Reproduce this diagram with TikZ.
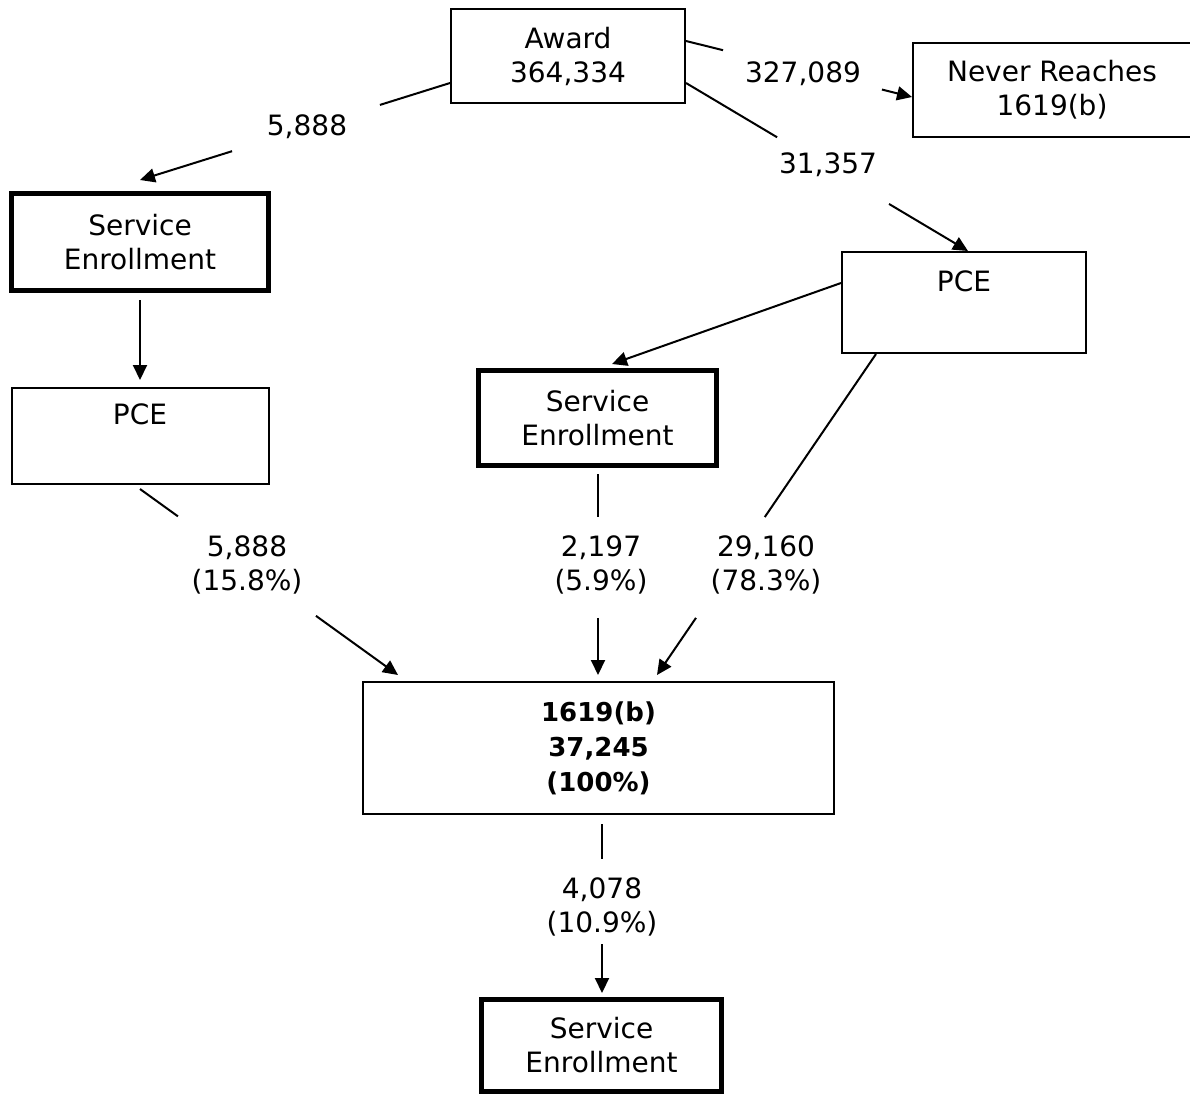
\documentclass[tikz,border=0pt]{standalone}
\usepackage{fontspec}
\setmainfont{DejaVu Sans}
\usetikzlibrary{arrows.meta,calc}
\tikzset{
  box/.style={draw, line width=2pt, inner sep=0pt, align=center, font=\fontsize{28}{34}\selectfont},
  thickbox/.style={box, line width=5pt},
  pcebox/.style={box, text height=21pt, text depth=44pt},
  lbl/.style={inner sep=0pt, align=center, font=\fontsize{28}{34}\selectfont},
  ln/.style={line width=2pt},
  arr/.style={ln, -{Triangle[length=15pt,width=14pt]}},
}
\begin{document}
\begin{tikzpicture}[x=1pt,y=-1pt]
\useasboundingbox[fill=white] (0,0) rectangle (1190,1095);
% boxes
\node[box, minimum width=234pt, minimum height=94pt] (award) at (568,56) {Award\\364,334};
\node[box, minimum width=278pt, minimum height=94pt] (never) at (1052,90) {Never Reaches\\1619(b)};
\node[thickbox, minimum width=257pt, minimum height=97pt] (se1) at (140,242) {Service\\Enrollment};
\node[pcebox, minimum width=257pt, minimum height=96pt] (pce1) at (140,436) {PCE};
\node[pcebox, minimum width=244pt, minimum height=101pt] (pce2) at (964,302.5) {PCE};
\node[thickbox, minimum width=238pt, minimum height=95pt] (se2) at (597.5,418) {Service\\Enrollment};
\node[box, minimum width=471pt, minimum height=132pt, font=\bfseries\fontsize{26}{35}\selectfont] (total) at (598.5,748) {1619(b)\\37,245\\(100\%)};
\node[thickbox, minimum width=240pt, minimum height=92pt] (se3) at (601.5,1045.5) {Service\\Enrollment};
% labels
\node[lbl] (l1) at (307,127) {5,888};
\node[lbl] (l2) at (803,74) {327,089};
\node[lbl] (l3) at (828,165) {31,357};
\node[lbl] (l4) at (247,565) {5,888\\(15.8\%)};
\node[lbl] (l5) at (601,565) {2,197\\(5.9\%)};
\node[lbl] (l6) at (766,565) {29,160\\(78.3\%)};
\node[lbl] (l7) at (602,907) {4,078\\(10.9\%)};
% connector end points
\coordinate (c1s) at ($(award.west)+(0,27)$);
\coordinate (c1e) at ($(se1.north)+(0,-11)$);
\coordinate (c1a) at ($(c1s)!0.226!(c1e)$);
\coordinate (c1b) at ($(c1s)!0.703!(c1e)$);
\coordinate (c2s) at ($(award.east)+(0,-15)$);
\coordinate (c2e) at ($(never.west)+(0,7)$);
\coordinate (c2a) at ($(c2s)!0.164!(c2e)$);
\coordinate (c2b) at ($(c2s)!0.867!(c2e)$);
\coordinate (c3s) at ($(award.east)+(0,27)$);
\coordinate (c3e) at ($(pce2.north)+(4,0)$);
\coordinate (c3a) at ($(c3s)!0.323!(c3e)$);
\coordinate (c3b) at ($(c3s)!0.72!(c3e)$);
\coordinate (c6s) at ($(pce1.south)+(0,4)$);
\coordinate (c6e) at ($(total.north west)+(36,-6)$);
\coordinate (c6a) at ($(c6s)!0.147!(c6e)$);
\coordinate (c6b) at ($(c6s)!0.682!(c6e)$);
\coordinate (c7s) at ($(se2.south)+(0.5,6)$);
\coordinate (c7e) at ($(total.north)+(-0.5,-6)$);
\coordinate (c7a) at ($(c7s)!0.214!(c7e)$);
\coordinate (c7b) at ($(c7s)!0.716!(c7e)$);
\coordinate (c8s) at ($(pce2.south west)+(35,0)$);
\coordinate (c8e) at ($(total.north)+(58.5,-6)$);
\coordinate (c8a) at ($(c8s)!0.508!(c8e)$);
\coordinate (c8b) at ($(c8s)!0.822!(c8e)$);
\coordinate (c9s) at ($(total.south)+(3.5,9)$);
\coordinate (c9e) at ($(se3.north)+(0.5,-4)$);
\coordinate (c9a) at ($(c9s)!0.207!(c9e)$);
\coordinate (c9b) at ($(c9s)!0.71!(c9e)$);
% connectors
\draw[ln] (c1s) -- (c1a);
\draw[arr] (c1b) -- (c1e);
\draw[ln] (c2s) -- (c2a);
\draw[arr] (c2b) -- (c2e);
\draw[ln] (c3s) -- (c3a);
\draw[arr] (c3b) -- (c3e);
\draw[arr] ($(se1.south)+(0,7)$) -- ($(pce1.north)+(0,-7)$);
\draw[arr] ($(pce2.west)+(0,-19.5)$) -- ($(se2.north)+(14.5,-4)$);
\draw[ln] (c6s) -- (c6a);
\draw[arr] (c6b) -- (c6e);
\draw[ln] (c7s) -- (c7a);
\draw[arr] (c7b) -- (c7e);
\draw[ln] (c8s) -- (c8a);
\draw[arr] (c8b) -- (c8e);
\draw[ln] (c9s) -- (c9a);
\draw[arr] (c9b) -- (c9e);
\end{tikzpicture}
\end{document}
